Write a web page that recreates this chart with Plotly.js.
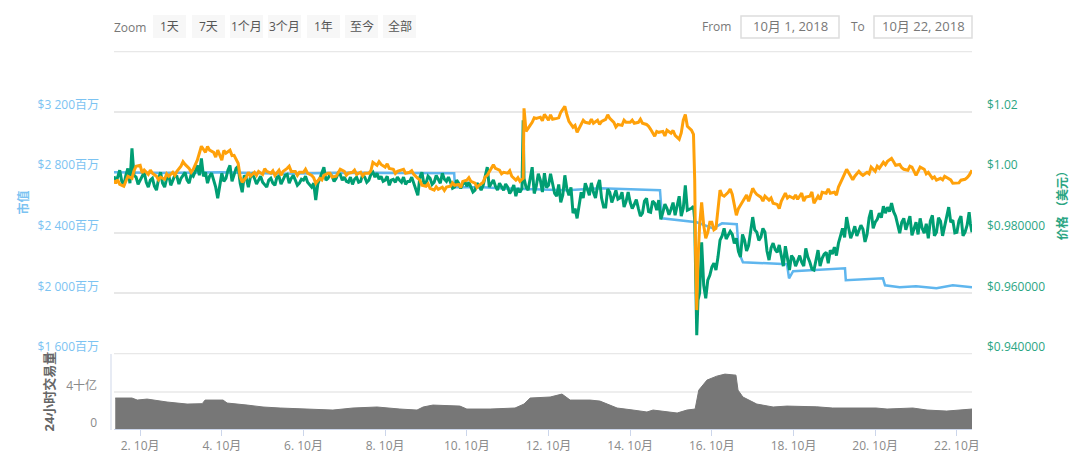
<!DOCTYPE html>
<html>
<head>
<meta charset="utf-8">
<script src="https://cdn.plot.ly/plotly-3.0.1.min.js"></script>
<style>html,body{margin:0;padding:0;background:#fff}</style>
</head>
<body>
<div id="chart" style="width:1080px;height:464px"></div>
<script>
// days of October 2018, one row per day
const priceDays = [
  1.36,1.4,1.5,1.6,1.7,1.8,1.9,
  2.0,2.1,2.2,2.3,2.4,2.5,2.6,2.7,2.8,2.9,
  3.0,3.1,3.2,3.3,3.4,3.5,3.6,3.7,3.8,3.9,
  4.0,4.1,4.2,4.3,4.4,4.5,4.6,4.7,4.8,4.9,
  5.0,5.1,5.2,5.3,5.4,5.5,5.6,5.7,5.8,5.9,
  6.0,6.1,6.2,6.3,6.4,6.5,6.6,6.7,6.8,6.9,
  7.0,7.1,7.2,7.3,7.4,7.5,7.6,7.7,7.8,7.9,
  8.0,8.1,8.2,8.3,8.4,8.5,8.6,8.7,8.8,8.9,
  9.0,9.1,9.2,9.3,9.4,9.5,9.6,9.7,9.8,9.9,
  10.0,10.1,10.2,10.3,10.4,10.5,10.6,10.7,10.8,10.9,
  11.0,11.1,11.2,11.3,11.35,11.38,11.4,11.5,11.6,11.7,11.8,11.9,
  12.0,12.1,12.2,12.3,12.4,12.5,12.6,12.7,12.8,12.9,
  13.0,13.1,13.2,13.3,13.4,13.5,13.6,13.7,13.8,13.9,
  14.0,14.1,14.2,14.3,14.4,14.5,14.6,14.7,14.8,14.9,
  15.0,15.1,15.2,15.3,15.35,15.4,15.5,15.55,15.58,15.6,15.63,15.66,15.7,15.75,15.8,15.85,15.9,15.95,
  16.0,16.1,16.2,16.3,16.4,16.5,16.6,16.7,16.8,16.9,
  17.0,17.1,17.2,17.3,17.4,17.5,17.6,17.7,17.8,17.9,
  18.0,18.1,18.2,18.3,18.4,18.5,18.6,18.7,18.8,18.9,
  19.0,19.1,19.2,19.3,19.4,19.5,19.6,19.7,19.8,19.9,
  20.0,20.1,20.2,20.3,20.4,20.5,20.6,20.7,20.8,20.9,
  21.0,21.1,21.2,21.3,21.4,21.5,21.6,21.7,21.8,21.9,
  22.0,22.1,22.2,22.3,22.37
];

const priceUsd = [
  .9987,.9967,1.0007,.9957,1.0013,1.0079,.9984,
  .9974,1.0,.9951,.9980,.9941,1.0,.9951,.9990,.9974,.9987,
  .9980,1.0,.9964,.9987,1.0023,1.0046,1.0,.9987,.9974,.9914,
  .9997,.9980,1.0023,.9990,1.0020,.9934,.9980,.9984,.9980,.9974,
  .9967,.9951,.9980,.9957,.9987,.9974,.9993,.9980,.9974,.9964,
  .9974,.9967,.9951,.9908,.9980,1.0017,.9980,.9987,.9980,.9993,
  .9984,.9967,.9960,.9984,.9970,.9984,.9974,1.0,.9997,.9987,
  .9974,.9957,.9977,.9984,.9967,.9960,.9970,.9964,.9924,1.0,
  .9964,.9980,.9967,.9974,.9997,.9970,.9967,.9951,.9964,.9960,
  .9954,.9951,.9941,.9954,.9957,1.0017,.9964,.9954,.9964,.9941,
  .9951,.9941,.9921,.9934,.9947,1.0172,.9980,.9941,1.0017,.9954,.9974,.9997,
  .9957,.9967,.9921,.9901,.9990,.9924,.9865,.9848,.9934,.9964,
  .9924,.9934,.9954,.9914,.9885,.9934,.9918,.9911,.9934,.9904,
  .9901,.9894,.9881,.9865,.9914,.9868,.9898,.9908,.9868,.9881,
  .9878,.9858,.9921,.9881,.9957,.9875,.9881,.9888,.9842,.9677,.9462,.9578,.9601,.9769,.9627,.9584,.9644,.9660,
  .9687,.9677,.9776,.9815,.9792,.9795,.9782,.9720,.9776,.9759,
  .9852,.9802,.9786,.9802,.9710,.9766,.9736,.9723,.9756,.9677,
  .9716,.9710,.9703,.9749,.9703,.9677,.9743,.9716,.9736,.9743,
  .9753,.9766,.9815,.9852,.9782,.9822,.9805,.9812,.9795,.9875,
  .9835,.9865,.9888,.9885,.9898,.9855,.9799,.9848,.9835,.9792,
  .9835,.9848,.9799,.9782,.9858,.9802,.9838,.9822,.9885,.9842,
  .9802,.9855,.9802,.9868,.9802
];

// extra readings between the rows above, the green band is very jagged
const priceExtraDays = [
  1.45,1.55,1.65,1.75,1.85,1.95,
  2.05,2.15,2.25,2.35,2.45,2.55,2.65,2.75,2.85,2.95,
  3.05,3.15,3.25,3.35,3.45,3.55,3.65,3.75,3.85,3.95,
  4.05,4.15,4.25,4.35,4.45,4.55,4.65,4.75,4.85,4.95,
  5.05,5.15,5.25,5.35,5.45,5.55,5.65,5.75,5.85,5.95,
  6.05,6.15,6.25,6.35,6.45,6.55,6.65,6.75,6.85,6.95,
  7.05,7.15,7.25,7.35,7.45,7.55,7.65,7.75,7.85,7.95,
  8.05,8.15,8.25,8.35,8.45,8.55,8.65,8.75,8.85,8.95,
  9.05,9.15,9.25,9.35,9.45,9.55,9.65,9.75,9.85,9.95,
  10.05,10.15,10.25,10.35,10.45,10.55,10.65,10.75,10.85,10.95,
  11.05,11.15,11.25,11.45,11.55,11.65,11.75,11.85,11.95,
  12.05,12.15,12.25,12.35,12.45,12.55,12.65,12.75,12.85,12.95,
  13.05,13.15,13.25,13.35,13.45,13.55,13.65,13.75,13.85,13.95,
  14.05,14.15,14.25,14.35,14.45,14.55,14.65,14.75,14.85,14.95,
  15.05,15.15,15.25,
  16.05,16.15,16.25,16.35,16.45,16.55,16.65,16.75,16.85,16.95,
  17.05,17.15,17.25,17.35,17.45,17.55,17.65,17.75,17.85,17.95,
  18.05,18.15,18.25,18.35,18.45,18.55,18.65,18.75,18.85,18.95,
  19.05,19.15,19.25,19.35,19.45,19.55,19.65,19.75,19.85,19.95,
  20.05,20.15,20.25,20.35,20.45,20.55,20.65,20.75,20.85,20.95,
  21.05,21.15,21.25,21.35,21.45,21.55,21.65,21.75,21.85,21.95,
  22.05,22.15,22.25,22.33
];
const priceExtraUsd = [
  .9984,.9970,.9990,.9964,.9990,.9960,
  .9987,.9967,.9974,.9954,.9977,.9964,.9980,.9957,.9990,.9961,
  .9990,.9974,.9993,1.0003,.9990,.9987,.9964,.9997,.9951,.9957,
  .9970,1.0007,.9970,1.0013,.9964,.9990,.9951,.9993,.9961,.9987,
  .9957,.9974,.9964,.9984,.9961,.9990,.9964,.9990,.9957,.9977,
  .9987,.9957,.9964,.9961,.9997,.9974,.9993,.9970,.9997,.9974,
  .9970,.9984,.9977,.9967,.9993,.9967,.9993,.9984,.9977,.9970,
  .9987,.9974,.9967,.9974,.9984,.9970,.9984,.9947,.9985,.9961,
  .9987,.9960,.9990,.9964,.9977,.9984,.9947,.9974,.9947,.9970,
  .9967,.9935,.9964,.9941,.9990,.9951,.9975,.9941,.9954,.9961,
  .9930,.9958,.9948,.9950,.9985,.9930,.9995,.9935,.9950,
  .9995,.9930,.9960,.9925,.9945,.9950,.9880,.9885,.9915,.9945,
  .9965,.9915,.9975,.9885,.9945,.9900,.9940,.9915,.9885,.9935,
  .9880,.9910,.9855,.9905,.9870,.9905,.9875,.9845,.9895,.9860,
  .9900,.9890,.9855,
  .9700,.9720,.9790,.9780,.9805,.9765,.9740,.9795,.9740,.9800,
  .9810,.9775,.9815,.9740,.9750,.9745,.9760,.9690,.9710,.9725,
  .9690,.9725,.9690,.9720,.9680,.9715,.9690,.9730,.9700,.9730,
  .9725,.9790,.9785,.9815,.9800,.9790,.9825,.9770,.9850,.9815,
  .9845,.9850,.9865,.9870,.9870,.9830,.9835,.9810,.9855,.9815,
  .9795,.9815,.9830,.9840,.9790,.9850,.9790,.9860,.9835,.9800,
  .9840,.9790,.9825,.9830
];

const priceBtcScaled = [
  .9974,.9964,.9960,.9954,.9987,.9980,1.0020,
  1.0023,1.0007,.9993,.9997,.9987,.9984,.9977,.9987,1.0,1.0003,
  1.0020,1.0026,1.0013,1.0010,1.0040,1.0086,1.0066,1.0073,1.0066,1.0073,
  1.0040,1.0063,1.0073,1.0056,1.0030,.9967,.9984,.9987,1.0,1.0003,
  .9993,1.0003,.9997,.9990,1.0007,1.0003,1.0013,1.0003,1.0003,1.0,
  1.0,.9997,.9990,.9964,.9980,.9990,.9997,.9984,.9987,1.0010,
  1.0003,.9997,1.0,.9993,1.0,.9997,.9997,1.0033,1.0023,1.0026,
  1.0017,1.0013,1.0010,1.0003,1.0007,.9997,1.0,.9993,.9980,.9957,
  .9954,.9947,.9941,.9944,.9951,.9951,.9954,.9957,.9960,.9970,
  .9974,.9970,.9964,.9957,.9967,.9990,1.0017,1.0013,1.0007,1.0,
  .9997,.9987,.9974,.9970,.9977,.9980,1.0211,1.0145,1.0165,1.0178,1.0182,1.0191,
  1.0172,1.0175,1.0178,1.0198,1.0218,1.0168,1.0149,1.0132,1.0158,1.0165,
  1.0162,1.0162,1.0172,1.0168,1.0175,1.0178,1.0165,1.0158,1.0155,1.0165,
  1.0165,1.0162,1.0165,1.0162,1.0158,1.0142,1.0119,1.0132,1.0135,1.0139,
  1.0129,1.0122,1.0109,1.0172,1.0191,1.0152,1.0139,1.0125,.9974,.9743,.9545,.9710,.9825,.9901,.9825,.9782,.9802,.9835,
  .9835,.9815,.9941,.9921,.9934,.9927,.9858,.9891,.9914,.9904,
  .9947,.9927,.9918,.9921,.9908,.9898,.9894,.9904,.9931,.9921,
  .9914,.9911,.9931,.9918,.9921,.9898,.9921,.9934,.9931,.9931,
  .9934,.9951,.9980,1.0010,.9987,.9987,1.0003,.9990,1.0,1.0017,
  1.0003,1.0013,1.0033,1.0036,1.0046,1.0023,1.0026,1.0010,1.0007,1.0017,
  .9990,1.0017,1.0010,1.0,.9980,.9974,.9980,.9987,.9977,.9964,
  .9964,.9974,.9977,.9990,1.0007
];
const btcExtraDays = [
  1.45,1.65,1.85,
  2.05,2.25,2.45,2.65,2.85,
  3.05,3.25,3.45,3.65,3.85,
  4.05,4.25,4.45,4.65,4.85,
  5.05,5.25,5.45,5.65,5.85,
  6.05,6.25,6.45,6.65,6.85,
  7.05,7.25,7.45,7.65,7.85,
  8.05,8.25,8.45,8.65,8.85,
  9.05,9.25,9.45,9.65,9.85,
  10.05,10.25,10.45,10.65,10.85,
  11.05,11.25,11.45,11.65,11.85,
  12.05,12.25,12.45,12.65,12.85,
  13.05,13.25,13.45,13.65,13.85,
  14.05,14.25,14.45,14.65,14.85,
  15.05,15.25,
  16.05,16.25,16.45,16.65,16.85,
  17.05,17.25,17.45,17.65,17.85,
  18.05,18.25,18.45,18.65,18.85,
  19.05,19.25,19.45,19.65,19.85,
  20.05,20.25,20.45,20.65,20.85,
  21.05,21.25,21.45,21.65,21.85,
  22.05,22.25
];
const btcExtraValues = [
  .9975,.9970,1.0005,
  .9998,1.0007,.9975,.9995,.9990,
  1.0035,1.0,1.0060,1.0085,1.0050,
  1.0072,1.0055,.9985,1.0,.9990,
  1.0012,1.0005,.9990,1.0020,.9990,
  1.0010,.9982,.9975,.9997,1.0,
  .9990,1.0007,.9988,1.0005,1.0035,
  1.0028,.9996,1.0010,1.0005,.9975,
  .9962,.9952,.9940,.9965,.9950,
  .9982,.9950,.9985,1.0025,.9995,
  1.0005,.9982,1.0135,1.0180,1.0170,
  1.0190,1.0180,1.0190,1.0155,1.0172,
  1.0175,1.0158,1.0190,1.0150,1.0172,
  1.0172,1.0175,1.0152,1.0135,1.0120,
  1.0138,1.0130,
  .9810,.9925,.9945,.9880,.9925,
  .9935,.9905,.9915,.9880,.9915,
  .9925,.9905,.9935,.9910,.9945,
  .9925,.9995,.9975,.9995,.9995,
  1.0020,1.0025,1.0035,1.0015,1.0020,
  1.0005,.9995,.9985,.9975,.9975,
  .9965,.9982
];

const capDays = [1.36,2.5,4.0,5.5,7.0,8.5,9.69,9.71,10.4,10.81,12.45,13.26,14.73,14.78,15.54,15.63,16.03,16.25,16.61,16.66,16.76,17.74,17.84,17.89,17.99,19.26,19.28,20.19,20.24,20.6,21.0,21.5,21.9,22.37];
const marketCap = [2800,2795,2800,2790,2797,2793,2793,2701,2701,2694,2681,2694,2681,2496,2470,2470,2430,2463,2457,2272,2206,2193,2193,2100,2147,2166,2087,2100,2054,2041,2047,2035,2054,2041];

const volDays = [1.39,1.8,1.93,2.17,2.66,3.15,3.52,3.59,4.03,4.13,4.62,5.01,5.43,6.72,7.21,7.8,8.36,8.78,8.93,9.17,9.83,10.0,10.57,11.18,11.4,11.55,12.04,12.33,12.53,13.02,13.26,13.68,14.07,14.41,14.56,15.15,15.39,15.59,15.68,15.88,16.12,16.32,16.59,16.64,16.76,17.1,17.5,17.84,18.57,18.96,20.02,20.29,20.92,21.27,21.75,22.25,22.37];
const volume = [3.35,3.35,3.13,3.24,2.92,2.7,2.74,3.13,3.13,2.81,2.59,2.38,2.27,2.05,2.27,2.38,2.16,2.05,2.38,2.59,2.48,2.16,2.16,2.27,2.7,3.35,3.46,3.78,3.13,3.13,3.02,2.27,2.05,1.84,2.05,1.73,2.05,2.16,4.21,5.29,5.72,5.94,5.83,4.21,3.46,2.7,2.38,2.48,2.4,2.27,2.27,2.16,2.27,2.05,1.94,2.16,2.16];

const xTickDays = [2,4,6,8,10,12,14,16,18,20,22];
const xTickLabels = ['2. 10月','4. 10月','6. 10月','8. 10月','10. 10月','12. 10月','14. 10月','16. 10月','18. 10月','20. 10月','22. 10月'];
const capTicks = [1600,2000,2400,2800,3200,3600];
const capLabels = ['$1 600百万','$2 000百万','$2 400百万','$2 800百万','$3 200百万',''];
const priceTicks = [.94,.96,.98,1.0,1.02,1.04];
const priceLabels = ['$0.940000','$0.960000','$0.980000','$1.00','$1.02',''];
const volTicks = [0,4];
const volLabels = ['0','4十亿'];
const zoomLabels = ['1天','7天','1个月','3个月','1年','至今','全部'];
const fromDate = '10月 1, 2018';
const toDate = '10月 22, 2018';

const W = 1080, H = 464;
const L = 114, R = 972, T = 51, B = 429;
const FONT = '"Open Sans","Noto Sans CJK SC",sans-serif';
const BLUE = '#5fb6ee', GREEN = '#009e73', ORANGE = '#ffa10a', GREY = '#777777';
const BLUE_TEXT = '#7cc3f2', GREEN_TEXT = '#2ba583', GREY_TEXT = '#8a8a8a', GRID = '#e8e8e8';

// page pixels to paper coordinates, used for the range selector only
const px = (x) => (x - L) / (R - L);
const py = (y) => (B - y) / (B - T);

// put the between-row readings back in time order
const mergeByDay = (days, values, extraDays, extraValues) => {
  var rows = days.map((d, i) => [d, values[i]]).concat(extraDays.map((d, i) => [d, extraValues[i]]));
  rows.sort((a, b) => a[0] - b[0]);
  return {x: rows.map((r) => r[0]), y: rows.map((r) => r[1])};
};
const green = mergeByDay(priceDays, priceUsd, priceExtraDays, priceExtraUsd);
const orange = mergeByDay(priceDays, priceBtcScaled, btcExtraDays, btcExtraValues);

var shapes = [];
var annotations = [];

const addText = (text, x, y, color, anchor, size) => {
  annotations.push({
    text: text, xref: 'paper', yref: 'paper', x: px(x), y: py(y),
    xanchor: anchor || 'center', yanchor: 'middle', showarrow: false,
    font: {family: FONT, size: size || 12, color: color}
  });
};

// zoom buttons
const buttonLeft = [153,192,230,268,307,345,383];
zoomLabels.forEach((label, i) => {
  shapes.push({type: 'rect', xref: 'paper', yref: 'paper', x0: px(buttonLeft[i]), x1: px(buttonLeft[i] + 33),
    y0: py(38), y1: py(15), fillcolor: '#f7f7f7', line: {width: 0}});
  addText(label, buttonLeft[i] + 16.5, 26, '#555555');
});
addText('Zoom', 112, 27, '#777777', 'left');

// date boxes
addText('From', 700, 26, '#777777', 'left');
addText('To', 849, 26, '#777777', 'left');
[[741,839,fromDate],[874,972,toDate]].forEach((box) => {
  shapes.push({type: 'rect', xref: 'paper', yref: 'paper', x0: px(box[0]), x1: px(box[1]),
    y0: py(38), y1: py(16), fillcolor: '#ffffff', line: {color: '#dddddd', width: 1.5}});
  addText(box[2], (box[0] + box[1]) / 2, 26, '#777777', 'center', 13);
});

// left edge of the volume panel
shapes.push({type: 'line', xref: 'paper', yref: 'paper', x0: px(111), x1: px(111), y0: py(430), y1: py(354),
  line: {color: '#dfe5f1', width: 1.5}});

// plotly leaves out a grid line sitting on the edge of the range, so draw the two end ones
[capTicks[0], capTicks[capTicks.length - 1]].forEach((v) => {
  shapes.push({type: 'line', xref: 'paper', yref: 'y', x0: 0, x1: 1, y0: v, y1: v, layer: 'below',
    line: {color: GRID, width: 2}});
});

var data = [
  {x: volDays, y: volume, type: 'scatter', mode: 'lines', xaxis: 'x', yaxis: 'y3',
    fill: 'tozeroy', fillcolor: GREY, line: {color: GREY, width: 1}, name: '24小时交易量'},
  {x: capDays, y: marketCap, type: 'scatter', mode: 'lines', xaxis: 'x', yaxis: 'y',
    line: {color: BLUE, width: 2.5}, name: '市值'},
  {x: green.x, y: green.y, type: 'scatter', mode: 'lines', xaxis: 'x', yaxis: 'y2',
    line: {color: GREEN, width: 3}, name: '价格 (美元)'},
  {x: orange.x, y: orange.y, type: 'scatter', mode: 'lines', xaxis: 'x', yaxis: 'y2',
    line: {color: ORANGE, width: 3}, name: '价格 (BTC)'}
];

var layout = {
  width: W, height: H, showlegend: false,
  margin: {l: L, r: W - R, t: T, b: H - B, pad: 0},
  paper_bgcolor: '#ffffff', plot_bgcolor: '#ffffff',
  font: {family: FONT, size: 12, color: GREY_TEXT},
  xaxis: {
    anchor: 'y3', range: [1.36, 22.37], tickmode: 'array', tickvals: xTickDays, ticktext: xTickLabels,
    showgrid: false, zeroline: false, showline: true, linecolor: '#ccd6eb', linewidth: 1,
    ticks: 'outside', ticklen: 6, tickcolor: '#ccd6eb', tickfont: {size: 12, color: GREY_TEXT}
  },
  yaxis: {
    domain: [0.198, 1], range: [1599, 3601], anchor: 'x', tickmode: 'array', tickvals: capTicks, ticktext: capLabels,
    showgrid: true, gridcolor: GRID, gridwidth: 2, zeroline: false, ticks: '',
    ticklabelshift: -7, ticklabelstandoff: 14, tickfont: {size: 12, color: BLUE_TEXT},
    title: {text: '市值', standoff: 6, font: {size: 12, color: BLUE_TEXT, weight: 'bold'}}
  },
  yaxis2: {
    domain: [0.198, 1], range: [.93995, 1.04005], overlaying: 'y', side: 'right', anchor: 'x',
    tickmode: 'array', tickvals: priceTicks, ticktext: priceLabels,
    showgrid: false, zeroline: false, ticks: '',
    ticklabelshift: -7, ticklabelstandoff: 14, tickfont: {size: 12, color: GREEN_TEXT},
    title: {text: '价格 （美元）', standoff: 14, font: {size: 12, color: GREEN_TEXT, weight: 'bold'}}
  },
  yaxis3: {
    domain: [0, 0.198], range: [0, 8.1], anchor: 'x', tickmode: 'array', tickvals: volTicks, ticktext: volLabels,
    showgrid: true, gridcolor: '#eeeeee', gridwidth: 2, zeroline: false, ticks: '',
    ticklabelshift: -6, ticklabelstandoff: 16, tickfont: {size: 12, color: GREY_TEXT},
    title: {text: '24小时交易量', standoff: 8, font: {size: 13, color: '#666666', weight: 'bold'}}
  },
  shapes: shapes,
  annotations: annotations
};

Plotly.newPlot('chart', data, layout, {displayModeBar: false, staticPlot: true});
</script>
</body>
</html>
